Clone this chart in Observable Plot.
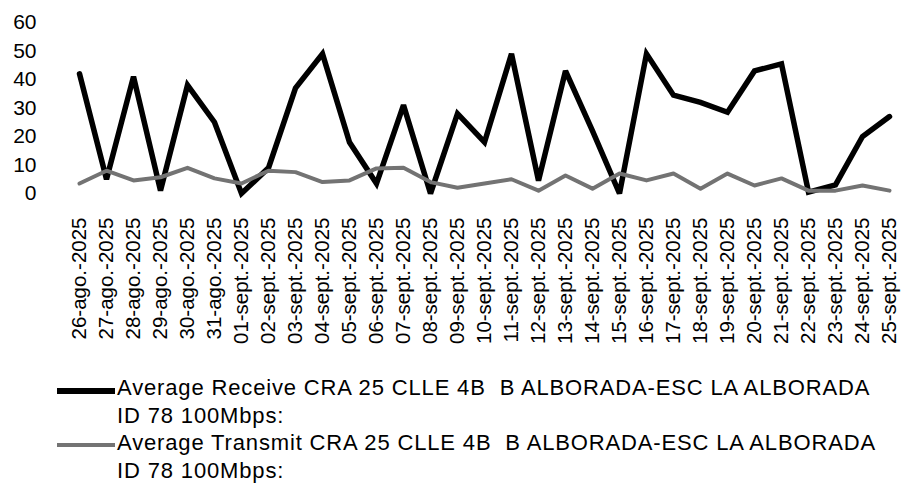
<!DOCTYPE html>
<html>
<head>
<meta charset="utf-8">
<script src="https://cdn.jsdelivr.net/npm/d3@7"></script>
<script src="https://cdn.jsdelivr.net/npm/@observablehq/plot@0.6"></script>
<style>
  html, body { margin: 0; padding: 0; background: #fff; }
  body { width: 905px; height: 484px; overflow: hidden; font-family: "Liberation Sans", Arial, sans-serif; color: #000; }
  #chart svg { display: block; }
  .legend { position: relative; margin-top: 4px; }
  .item { display: flex; align-items: flex-start; }
  .sw { width: 58px; margin-left: 57px; margin-top: 14px; margin-right: 2px; flex: none; }
  .txt { font-size: 22px; line-height: 27.5px; white-space: pre; letter-spacing: 0.85px; }
</style>
</head>
<body>
<div id="chart"></div>
<div class="legend" id="legend"></div>
<script>
const dates = [
  "26-ago.-2025","27-ago.-2025","28-ago.-2025","29-ago.-2025","30-ago.-2025","31-ago.-2025",
  "01-sept.-2025","02-sept.-2025","03-sept.-2025","04-sept.-2025","05-sept.-2025","06-sept.-2025",
  "07-sept.-2025","08-sept.-2025","09-sept.-2025","10-sept.-2025","11-sept.-2025","12-sept.-2025",
  "13-sept.-2025","14-sept.-2025","15-sept.-2025","16-sept.-2025","17-sept.-2025","18-sept.-2025",
  "19-sept.-2025","20-sept.-2025","21-sept.-2025","22-sept.-2025","23-sept.-2025","24-sept.-2025",
  "25-sept.-2025"
];
const receive = [42, 5, 41, 1, 38, 25, 0, 9, 37, 49, 18, 3.5, 31, 0, 28, 18, 49, 4.5, 43, 22, 0, 49, 34.5, 32, 28.5, 43, 45.5, 0.5, 3, 20, 27];
const transmit = [3.5, 8, 4.6, 5.7, 9, 5.3, 3.5, 8, 7.5, 4, 4.6, 8.8, 9, 4, 2, 3.5, 5, 1, 6.3, 1.7, 7, 4.6, 7, 1.7, 7, 2.8, 5.3, 1, 1, 2.8, 1];
const yTicks = [0, 10, 20, 30, 40, 50, 60];
const seriesNames = [
  "Average Receive CRA 25 CLLE 4B  B ALBORADA-ESC LA ALBORADA",
  "Average Transmit CRA 25 CLLE 4B  B ALBORADA-ESC LA ALBORADA"
];
const seriesSub = "ID 78 100Mbps:";
const seriesColors = ["#000000", "#737373"];
const seriesWidths = [5.5, 4];

const recData = dates.map((d, i) => ({date: d, value: receive[i]}));
const traData = dates.map((d, i) => ({date: d, value: transmit[i]}));

const chart = Plot.plot({
  width: 905,
  height: 370,
  marginLeft: 74,
  marginRight: 12,
  marginTop: 22,
  marginBottom: 177,
  style: {fontFamily: '"Liberation Sans", Arial, sans-serif', color: "#000", background: "#fff", overflow: "visible"},
  x: {type: "point", domain: dates, padding: 0},
  y: {domain: [0, 60]},
  marks: [
    Plot.axisY({ticks: yTicks, tickSize: 0, tickPadding: 38, fontSize: 21, label: null}),
    Plot.axisX({tickSize: 0, tickPadding: 24, tickRotate: -90, fontSize: 20.5, label: null}),
    Plot.line(recData, {x: "date", y: "value", stroke: seriesColors[0], strokeWidth: seriesWidths[0], strokeLinejoin: "miter", strokeMiterlimit: 3}),
    Plot.line(traData, {x: "date", y: "value", stroke: seriesColors[1], strokeWidth: seriesWidths[1]})
  ]
});
document.getElementById("chart").appendChild(chart);

const legend = document.getElementById("legend");
seriesNames.forEach((name, i) => {
  const item = document.createElement("div");
  item.className = "item";
  const sw = document.createElement("div");
  sw.className = "sw";
  sw.style.height = seriesWidths[i] + "px";
  sw.style.background = seriesColors[i];
  const txt = document.createElement("div");
  txt.className = "txt";
  txt.textContent = name + "\n" + seriesSub;
  item.appendChild(sw);
  item.appendChild(txt);
  legend.appendChild(item);
});
</script>
</body>
</html>
